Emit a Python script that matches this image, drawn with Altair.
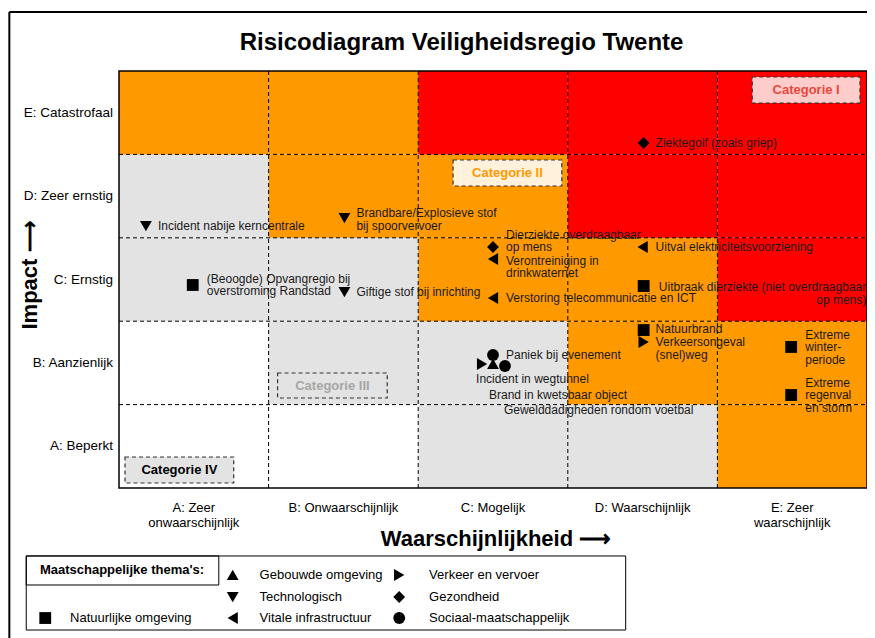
import altair as alt
import pandas as pd

# ---------------- data ----------------
impact_labels = ["A: Beperkt", "B: Aanzienlijk", "C: Ernstig", "D: Zeer ernstig", "E: Catastrofaal"]
likelihood_labels = ["A: Zeer\nonwaarschijnlijk", "B: Onwaarschijnlijk", "C: Mogelijk",
                     "D: Waarschijnlijk", "E: Zeer\nwaarschijnlijk"]

# risk class per cell: rows = impact A..E, columns = likelihood A..E
cell_class = [
    ["IV", "IV", "III", "III", "II"],
    ["IV", "III", "III", "II", "II"],
    ["III", "III", "II", "II", "I"],
    ["III", "II", "II", "I", "I"],
    ["II", "II", "I", "I", "I"],
]
class_names = ["I", "II", "III", "IV"]
class_colors = ["#FF0000", "#FF9900", "#E3E3E3", "#FFFFFF"]

themes = ["Gebouwde omgeving", "Verkeer en vervoer", "Technologisch", "Gezondheid",
          "Natuurlijke omgeving", "Vitale infrastructuur", "Sociaal-maatschappelijk"]
theme_shapes = ["triangle-up", "triangle-right", "triangle-down", "diamond",
                "square", "triangle-left", "circle"]
theme_sizes = [140, 140, 140, 140, 85, 140, 140]

event_names = [
    "Ziektegolf (zoals griep)",
    "Incident nabije kerncentrale",
    "Brandbare/Explosieve stof\nbij spoorvervoer",
    "Dierziekte overdraagbaar\nop mens",
    "Verontreiniging in\ndrinkwaternet",
    "Uitval elektriciteitsvoorziening",
    "(Beoogde) Opvangregio bij\noverstroming Randstad",
    "Giftige stof bij inrichting",
    "Verstoring telecommunicatie en ICT",
    "Uitbraak dierziekte (niet overdraagbaar\nop mens)",
    "Natuurbrand",
    "Verkeersongeval\n(snel)weg",
    "Extreme\nwinter-\nperiode",
    "Extreme\nregenval\nen storm",
    "Paniek bij evenement",
    "Incident in wegtunnel",
    "Brand in kwetsbaar object",
    "Gewelddadigheden rondom voetbal",
]
event_theme = [
    "Gezondheid", "Technologisch", "Technologisch", "Gezondheid", "Vitale infrastructuur",
    "Vitale infrastructuur", "Natuurlijke omgeving", "Technologisch", "Vitale infrastructuur",
    "Natuurlijke omgeving", "Natuurlijke omgeving", "Verkeer en vervoer",
    "Natuurlijke omgeving", "Natuurlijke omgeving", "Sociaal-maatschappelijk",
    "Verkeer en vervoer", "Gebouwde omgeving", "Sociaal-maatschappelijk",
]
# position in the matrix (0..5 = likelihood A..E, impact A..E)
event_likelihood = [3.507, 0.18, 1.507, 2.5, 2.5, 3.5, 0.493, 1.507, 2.5, 3.507,
                    3.507, 3.507, 4.493, 4.493, 2.5, 2.427, 2.5, 2.58]
event_impact = [4.137, 3.141, 3.237, 2.890, 2.746, 2.890, 2.434, 2.350, 2.278, 2.422,
                1.894, 1.751, 1.691, 1.115, 1.595, 1.487, 1.487, 1.463]

# ---------------- layout (annotation anchors, in matrix units; y = first text line) ----------------
label_x = [3.587, 0.26, 1.587, 2.587, 2.587, 3.587, 0.587, 1.587, 2.587, 4.995,
           3.587, 3.587, 4.587, 4.587, 2.587, 2.387, 2.473, 2.573]
label_y = [4.137, 3.141, 3.297, 3.034, 2.722, 2.890, 2.506, 2.350, 2.278, 2.410,
           1.906, 1.745, 1.835, 1.259, 1.595, 1.307, 1.115, 0.935]
label_align = ["left"] * 9 + ["right"] + ["left"] * 8

cat_labels = ["Categorie I", "Categorie II", "Categorie III", "Categorie IV"]
cat_x = [4.233, 2.233, 1.06, 0.04]
cat_x2 = [4.953, 2.96, 1.793, 0.767]
cat_y = [4.616, 3.621, 1.079, 0.06]
cat_y2 = [4.928, 3.933, 1.379, 0.372]
cat_fill = ["#FFCCCC", "#FFF1DC", "#E3E3E3", "#E3E3E3"]
cat_text = ["#E8473B", "#FF9900", "#A6A6A6", "#000000"]

leg_mx = [0.76, 1.873, 0.76, 1.873, -0.493, 0.76, 1.873]
leg_my = [-1.043, -1.043, -1.307, -1.307, -1.559, -1.559, -1.559]
leg_lx = [0.94, 2.073, 0.94, 2.073, -0.327, 0.94, 2.073]

FONT = "Liberation Sans, Arial, sans-serif"
xs = alt.Scale(domain=[0, 5], nice=False, zero=False)
ys = alt.Scale(domain=[0, 5], nice=False, zero=False)


def X(f):
    return alt.X(f, type="quantitative", scale=xs, axis=None)


def Y(f):
    return alt.Y(f, type="quantitative", scale=ys, axis=None)


# ---------------- tables ----------------
cells = pd.DataFrame([
    {"x": c, "x2": c + 1, "y": r, "y2": r + 1, "cls": cell_class[r][c]}
    for r in range(5) for c in range(5)
])
grid_v = pd.DataFrame({"v": [1, 2, 3, 4]})
events = pd.DataFrame({
    "name": event_names, "theme": event_theme,
    "lx": event_likelihood, "iy": event_impact,
    "tx": label_x, "ty": label_y, "align": label_align,
})
cats = pd.DataFrame({"label": cat_labels, "x": cat_x, "x2": cat_x2, "y": cat_y, "y2": cat_y2,
                     "fill": cat_fill, "tcol": cat_text})
cats["cx"] = (cats.x + cats.x2) / 2
cats["cy"] = (cats.y + cats.y2) / 2
ylab = pd.DataFrame({"label": impact_labels, "y": [0.5, 1.5, 2.5, 3.5, 4.5], "x": -0.04})
xlab = pd.DataFrame({"label": likelihood_labels, "x": [0.5, 1.5, 2.5, 3.5, 4.5], "y": -0.165})
legend = pd.DataFrame({"theme": themes, "mx": leg_mx, "my": leg_my, "lx": leg_lx})
boxes = pd.DataFrame({
    "x": [0, -0.62, -0.62], "x2": [5, 3.387, 0.667],
    "y": [0, -1.703, -1.163], "y2": [5, -0.815, -0.815],
    "w": [1.5, 1.0, 1.0],
})
# outer page frame (top and left edges; the others run off the page)
frame = pd.DataFrame({"x": [-0.733, -0.733], "x2": [5.3, -0.733],
                      "y": [5.707, -1.95], "y2": [5.707, 5.707]})

shape_enc = alt.Shape("theme:N", scale=alt.Scale(domain=themes, range=theme_shapes), legend=None)
size_enc = alt.Size("theme:N", scale=alt.Scale(domain=themes, range=theme_sizes), legend=None)

# ---------------- layers ----------------
cell_layer = alt.Chart(cells).mark_rect(stroke=None).encode(
    x=X("x"), x2="x2", y=Y("y"), y2="y2",
    color=alt.Color("cls:N", scale=alt.Scale(domain=class_names, range=class_colors), legend=None),
)
vlines = alt.Chart(grid_v).mark_rule(color="black", strokeDash=[4, 3], strokeWidth=1).encode(
    x=X("v"), y=alt.datum(0, scale=ys, axis=None), y2=alt.datum(5))
hlines = alt.Chart(grid_v).mark_rule(color="black", strokeDash=[4, 3], strokeWidth=1).encode(
    y=Y("v"), x=alt.datum(0, scale=xs, axis=None), x2=alt.datum(5))
box_layer = alt.Chart(boxes).mark_rect(fill=None, stroke="black", fillOpacity=0).encode(
    x=X("x"), x2="x2", y=Y("y"), y2="y2",
    strokeWidth=alt.StrokeWidth("w:Q", scale=None))
frame_layer = alt.Chart(frame).mark_rule(color="black", strokeWidth=2).encode(
    x=X("x"), x2="x2", y=Y("y"), y2="y2")

cat_box = alt.Chart(cats).mark_rect(stroke="#333333", strokeDash=[4, 3], strokeWidth=1.2).encode(
    x=X("x"), x2="x2", y=Y("y"), y2="y2", fill=alt.Fill("fill:N", scale=None))
cat_txt = alt.Chart(cats).mark_text(font=FONT, fontSize=13, fontWeight="bold").encode(
    x=X("cx"), y=Y("cy"), text="label:N", color=alt.Color("tcol:N", scale=None))

points = alt.Chart(events).mark_point(filled=True, fill="black", stroke=None, opacity=1).encode(
    x=X("lx"), y=Y("iy"), shape=shape_enc, size=size_enc)
labels_l = alt.Chart(events).transform_filter("datum.align == 'left'").mark_text(
    font=FONT, fontSize=12, align="left", baseline="middle", lineBreak="\n", lineHeight=12.5,
    color="#1a1a1a").encode(x=X("tx"), y=Y("ty"), text="name:N")
labels_r = alt.Chart(events).transform_filter("datum.align == 'right'").mark_text(
    font=FONT, fontSize=12, align="right", baseline="middle", lineBreak="\n", lineHeight=12.5,
    color="#1a1a1a").encode(x=X("tx"), y=Y("ty"), text="name:N")

ylab_layer = alt.Chart(ylab).mark_text(font=FONT, fontSize=13.5, align="right", baseline="middle",
                                       color="black").encode(x=X("x"), y=Y("y"), text="label:N")
xlab_layer = alt.Chart(xlab).mark_text(font=FONT, fontSize=13, align="center", baseline="top",
                                       lineBreak="\n", lineHeight=15, color="black").encode(
    x=X("x"), y=Y("y"), text="label:N")

titles = pd.DataFrame({
    "text": ["Risicodiagram Veiligheidsregio Twente", "Waarschijnlijkheid \u27f6", "Impact \u27f6"],
    "x": [2.29, 2.52, -0.593], "y": [5.33, -0.612, 2.554],
    "angle": [0, 0, 270], "size": [24, 22, 22],
})
title_layer = alt.Chart(titles).mark_text(font=FONT, fontWeight="bold", align="center",
                                          baseline="middle", color="black").encode(
    x=X("x"), y=Y("y"), text="text:N",
    angle=alt.Angle("angle:Q", scale=None), size=alt.Size("size:Q", scale=None))

head = pd.DataFrame({"t": ["Maatschappelijke thema's:"], "x": [0.02], "y": [-0.983]})
head_layer = alt.Chart(head).mark_text(font=FONT, fontSize=13, fontWeight="bold",
                                       color="black").encode(x=X("x"), y=Y("y"), text="t:N")
leg_pts = alt.Chart(legend).mark_point(filled=True, fill="black", stroke=None, opacity=1).encode(
    x=X("mx"), y=Y("my"), shape=shape_enc,
    size=alt.Size("theme:N", scale=alt.Scale(domain=themes, range=[120, 120, 120, 120, 70, 120, 120]),
                  legend=None))
leg_txt = alt.Chart(legend).mark_text(font=FONT, fontSize=13, align="left", baseline="middle",
                                      color="black").encode(x=X("lx"), y=Y("my"), text="theme:N")

chart = alt.layer(
    cell_layer, vlines, hlines, box_layer, frame_layer, cat_box, cat_txt, points, labels_l,
    labels_r, ylab_layer, xlab_layer, title_layer, head_layer, leg_pts, leg_txt,
).properties(
    width=748, height=417,
    autosize=alt.AutoSizeParams(type="none"),
    padding={"left": 111, "top": 63, "right": 0, "bottom": 150},
).configure_view(strokeWidth=0)

chart.save("out.html", embed_options={"renderer": "svg", "actions": False})
